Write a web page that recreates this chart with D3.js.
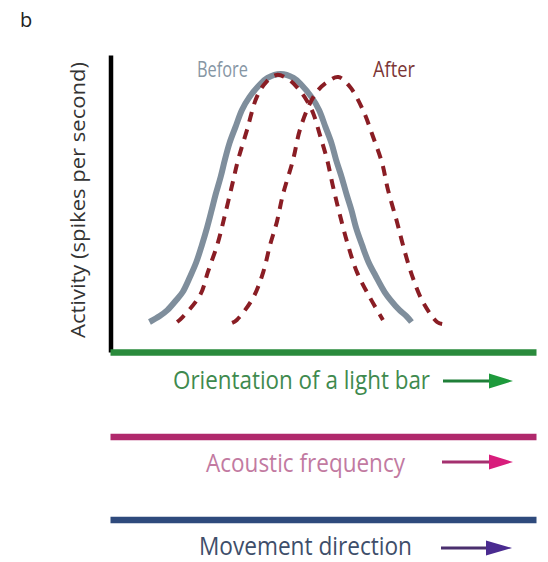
<!DOCTYPE html>
<html>
<head>
<meta charset="utf-8">
<script src="https://cdn.jsdelivr.net/npm/d3@7"></script>
<style>
  html, body { margin: 0; padding: 0; background: #fff; }
  svg { display: block; font-family: "Open Sans", "Noto Sans", sans-serif; }
</style>
</head>
<body>
<svg id="chart" width="548" height="562"></svg>
<script>
// ---- data (x = stimulus value, y = activity, arbitrary units 0-100) ----
const beforeX = [8.8, 11.2, 13.0, 15.1, 16.6, 18.4, 19.8, 21.1, 22.3, 23.4, 24.3, 25.5, 26.5, 27.6, 29.0, 30.5, 32.3, 34.6, 36.5, 39.6,
                 42.6, 44.5, 46.8, 48.6, 50.1, 51.5, 52.6, 53.9, 55.1, 56.2, 57.3, 58.7, 60.2, 61.9, 64.0, 65.4, 67.5, 69.1, 70.3];
const beforeY = [10.1, 12.1, 14.1, 17.5, 20.2, 25.6, 30.3, 36.0, 41.8, 47.8, 52.9, 58.9, 64.7, 70.4, 75.8, 81.5, 85.9, 89.9, 92.3, 93.6,
                 92.3, 89.9, 85.9, 81.5, 75.8, 70.4, 64.7, 58.9, 52.9, 47.8, 41.8, 36.0, 30.3, 25.6, 20.2, 17.5, 14.1, 12.1, 10.1];

const afterAX = [15.3, 16.4, 20.7, 22.5, 24.9, 26.5, 28.2, 29.6, 31.7, 34.0, 36.2, 38.7, 41.3, 43.4, 45.5, 47.2, 48.8, 50.5, 51.9, 53.5, 55.4, 57.5, 60.6, 63.6];
const afterAY = [10.1, 11.5, 19.2, 26.9, 37.0, 46.1, 56.2, 64.7, 74.8, 85.9, 90.9, 93.3, 91.9, 89.2, 85.2, 80.5, 73.1, 64.7, 55.6, 46.1, 36.0, 26.9, 18.2, 10.8];

const afterBX = [28.2, 29.3, 33.1, 35.5, 37.1, 38.7, 40.1, 42.5, 44.1, 46.5, 48.4, 50.5, 53.1, 55.9, 58.9, 61.3, 63.4, 64.8, 66.9, 68.3, 70.4, 73.0, 76.3, 77.5];
const afterBY = [9.8, 10.8, 18.2, 26.9, 36.0, 43.8, 52.9, 64.7, 74.8, 83.8, 88.2, 90.9, 92.6, 89.2, 81.5, 72.4, 63.6, 54.5, 43.8, 36.0, 25.9, 16.8, 10.1, 9.4];

const seriesLabels = ["Before", "After"];
const yAxisLabel = "Activity (spikes per second)";
const panelLabel = "b";
const stimulusLabels = ["Orientation of a light bar", "Acoustic frequency", "Movement direction"];

// ---- layout / style ----
const svg = d3.select("#chart");

const x = d3.scaleLinear().domain([0, 100]).range([112, 538]);
const y = d3.scaleLinear().domain([0, 100]).range([352, 55]);

const stimStyle = [
  { lineY: 352, lineColor: "#2a8b3c", textX: 173, textY: 389, textLen: 257, textColor: "#3f8a4e",
    arrow: { x0: 443, x1: 489, xh: 513, y: 381, shaft: "#1f7f38", head: "#1e9a3c" } },
  { lineY: 436.5, lineColor: "#b0286c", textX: 206, textY: 472, textLen: 199, textColor: "#c27aa1",
    arrow: { x0: 442, x1: 489, xh: 513, y: 462, shaft: "#a4306f", head: "#d81d7c" } },
  { lineY: 519.5, lineColor: "#2f4a7c", textX: 199, textY: 555, textLen: 213, textColor: "#3e4e6a",
    arrow: { x0: 441, x1: 486, xh: 512, y: 548, shaft: "#4a2f6e", head: "#4a2b90" } }
];

// panel label
svg.append("text").attr("x", 20).attr("y", 27)
  .attr("font-size", 20).attr("fill", "#222").text(panelLabel);

// y axis (black bar, no ticks)
const yAxisG = svg.append("g").attr("transform", `translate(${x(0) - 1.5},0)`)
  .call(d3.axisLeft(y).ticks(0).tickSizeOuter(0));
yAxisG.select(".domain").attr("stroke", "#000").attr("stroke-width", 4.5);

// y axis label
svg.append("text")
  .attr("transform", `translate(85,200) rotate(-90)`)
  .attr("text-anchor", "middle")
  .attr("font-size", 20)
  .attr("fill", "#333")
  .attr("textLength", 276)
  .attr("lengthAdjust", "spacingAndGlyphs")
  .text(yAxisLabel);

// stimulus axes (green, magenta, blue)
stimulusLabels.forEach((lab, i) => {
  const s = stimStyle[i];
  const g = svg.append("g").attr("transform", `translate(-2,${s.lineY})`)
    .call(d3.axisBottom(x).ticks(0).tickSizeOuter(0));
  g.select(".domain").attr("stroke", s.lineColor).attr("stroke-width", 6.5);

  svg.append("text")
    .attr("x", s.textX).attr("y", s.textY)
    .attr("font-size", 25)
    .attr("fill", s.textColor)
    .attr("textLength", s.textLen)
    .attr("lengthAdjust", "spacingAndGlyphs")
    .text(lab);

  const a = s.arrow;
  svg.append("line")
    .attr("x1", a.x0).attr("x2", a.x1 + 2).attr("y1", a.y).attr("y2", a.y)
    .attr("stroke", a.shaft).attr("stroke-width", 3.2);
  svg.append("path")
    .attr("d", `M${a.x1},${a.y - 7.5}L${a.xh},${a.y}L${a.x1},${a.y + 7.5}Z`)
    .attr("fill", a.head);
});

// curves
const line = d3.line()
  .x(d => x(d[0])).y(d => y(d[1]))
  .curve(d3.curveCatmullRom.alpha(0.5));

const zip = (xs, ys) => xs.map((v, i) => [v, ys[i]]);

svg.append("path")
  .datum(zip(beforeX, beforeY))
  .attr("d", line)
  .attr("fill", "none")
  .attr("stroke", "#7f8e9c")
  .attr("stroke-width", 6);

[zip(afterAX, afterAY), zip(afterBX, afterBY)].forEach(d => {
  svg.append("path")
    .datum(d)
    .attr("d", line)
    .attr("fill", "none")
    .attr("stroke", "#8a1d24")
    .attr("stroke-width", 4)
    .attr("stroke-dasharray", "10,8");
});

// series labels
svg.append("text").attr("x", 197).attr("y", 77)
  .attr("font-size", 21).attr("fill", "#8696a4")
  .attr("textLength", 51).attr("lengthAdjust", "spacingAndGlyphs")
  .text(seriesLabels[0]);
svg.append("text").attr("x", 373).attr("y", 77)
  .attr("font-size", 21).attr("fill", "#7c3636")
  .attr("textLength", 42).attr("lengthAdjust", "spacingAndGlyphs")
  .text(seriesLabels[1]);
</script>
</body>
</html>
